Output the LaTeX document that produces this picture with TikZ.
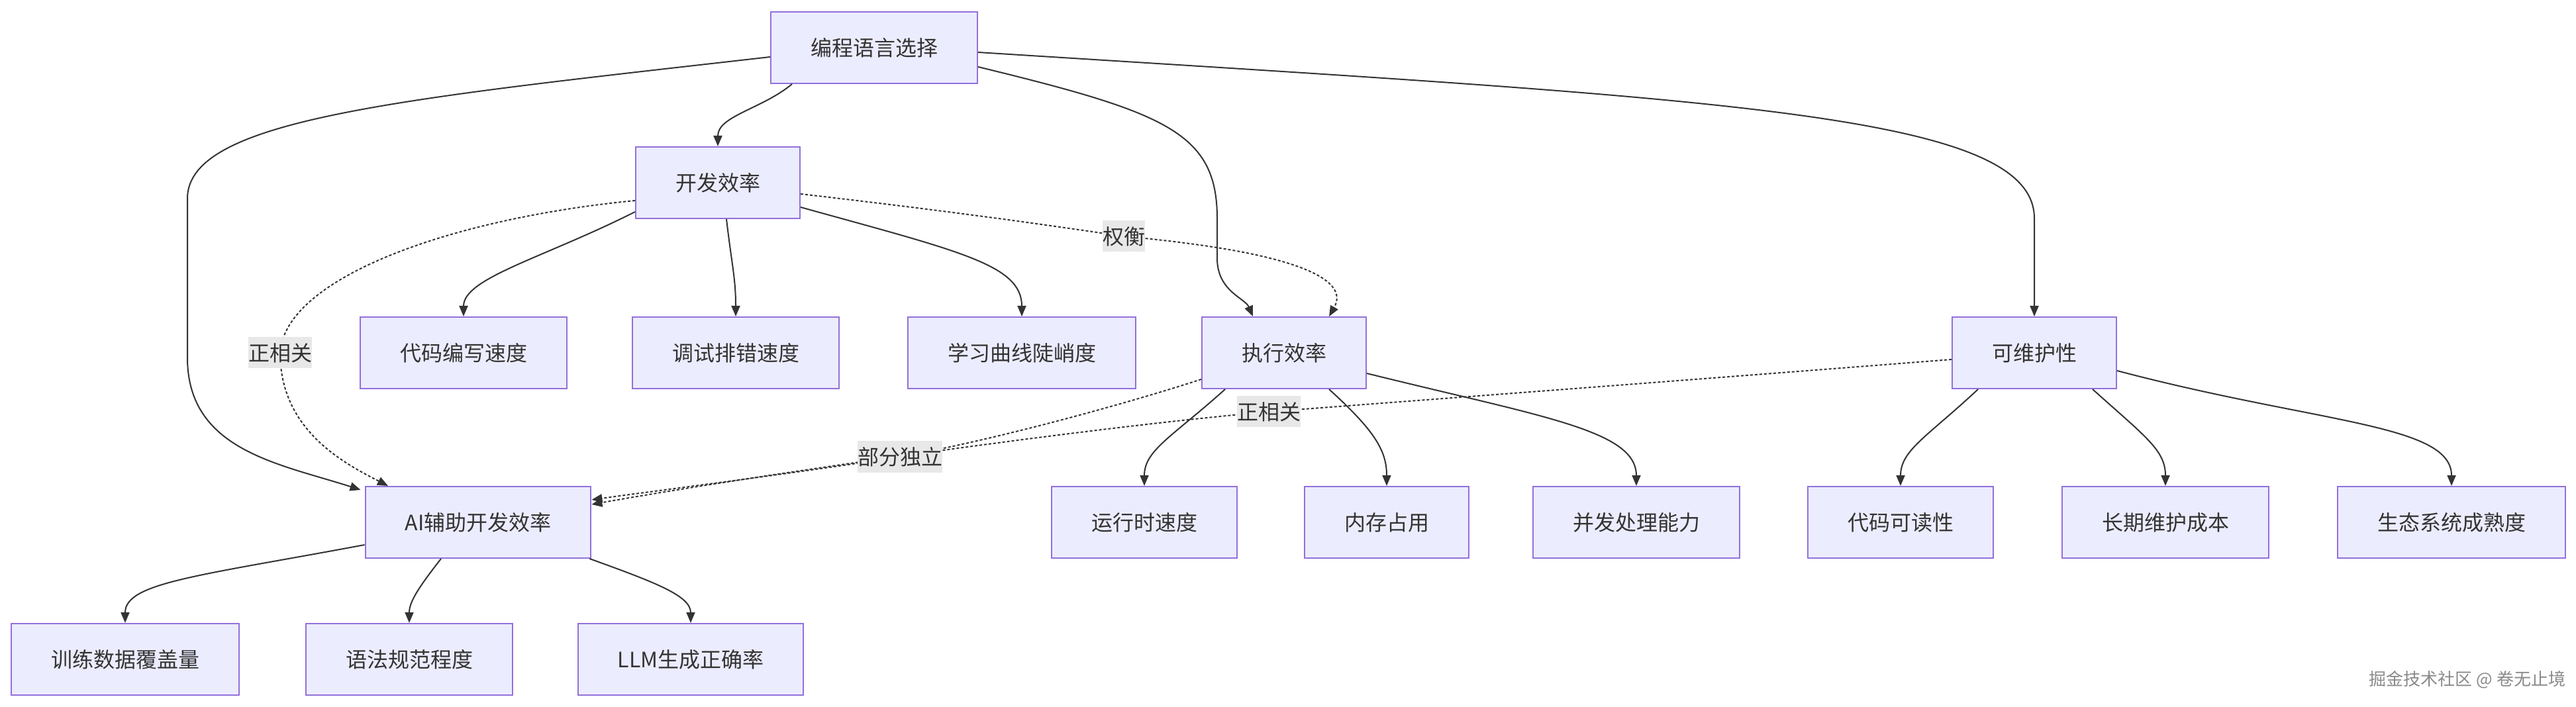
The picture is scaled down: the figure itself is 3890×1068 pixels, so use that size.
\documentclass[tikz,border=0pt]{standalone}
\usepackage{fontspec}
\setmainfont{Noto Sans CJK SC}
\usetikzlibrary{arrows.meta}
\definecolor{boxfill}{HTML}{ECECFF}
\definecolor{boxline}{HTML}{9370DB}
\definecolor{ink}{HTML}{333333}
\definecolor{lblbg}{HTML}{E8E8E8}
\definecolor{wmgray}{HTML}{8A8A8A}
\begin{document}
\begin{tikzpicture}[x=0.5pt,y=-0.5pt,
  box/.style={draw=boxline, fill=boxfill, line width=1pt, text=ink, minimum height=54pt, inner xsep=30pt, inner ysep=0pt, font=\fontsize{16pt}{19pt}\selectfont},
  elabel/.style={fill=lblbg, text=ink, inner xsep=0pt, inner ysep=0pt, minimum height=23.5pt, font=\fontsize{16pt}{19pt}\selectfont},
  conn/.style={draw=ink, line width=1pt, -{Triangle[length=8pt,width=6.5pt]}},
  dotconn/.style={conn, dash pattern=on 2pt off 1.5pt},
]
\useasboundingbox (0,0) rectangle (3890,1068);
\fill[white] (0,0) rectangle (3890,1068);

% nodes
\node[box] (A) at (1320,72) {编程语言选择};
\node[box] (B) at (1084,276) {开发效率};
\node[box] (B1) at (700,533) {代码编写速度};
\node[box] (B2) at (1111,533) {调试排错速度};
\node[box] (B3) at (1543,533) {学习曲线陡峭度};
\node[box] (C) at (1939,533) {执行效率};
\node[box] (D) at (3072,533) {可维护性};
\node[box] (E) at (722,789) {AI辅助开发效率};
\node[box] (C1) at (1728,789) {运行时速度};
\node[box] (C2) at (2094,789) {内存占用};
\node[box] (C3) at (2471,789) {并发处理能力};
\node[box] (D1) at (2870,789) {代码可读性};
\node[box] (D2) at (3270,789) {长期维护成本};
\node[box] (D3) at (3702,789) {生态系统成熟度};
\node[box] (E1) at (189,996) {训练数据覆盖量};
\node[box] (E2) at (618,996) {语法规范程度};
\node[box] (E3) at (1043,996) {LLM生成正确率};

% solid connectors
\draw[conn] ([xshift=-62pt]A.south) .. controls (1150,165) and (1084,175) .. (B.north);
\draw[conn] ([yshift=-14.5pt]A.east) .. controls (1760,170) and (1838,200) .. (1838,330) -- (1838,390) .. controls (1838,440) and (1880,450) .. ([xshift=-23.5pt]C.north);
\draw[conn] ([yshift=-3.5pt]A.east) .. controls (2600,150) and (3072,170) .. (3072,330) -- (D.north);
\draw[conn] ([yshift=-7pt]A.west) .. controls (600,150) and (283,180) .. (283,300) -- (283,540) .. controls (283,680) and (420,700) .. ([xshift=-3pt,yshift=-3pt]E.north west);

\draw[conn] ([yshift=-22pt]B.west) .. controls (820,390) and (700,420) .. (B1.north);
\draw[conn] ([xshift=6.5pt]B.south) .. controls (1105,400) and (1111,420) .. (B2.north);
\draw[conn] ([yshift=-18.5pt]B.east) .. controls (1450,380) and (1543,400) .. (B3.north);

\draw[conn] ([xshift=-44.5pt]C.south) .. controls (1770,660) and (1728,680) .. (C1.north);
\draw[conn] ([xshift=34pt]C.south) .. controls (2075,650) and (2094,680) .. (C2.north);
\draw[conn] ([yshift=-15.5pt]C.east) .. controls (2330,630) and (2471,650) .. (C3.north);

\draw[conn] ([xshift=-42.5pt]D.south) .. controls (2910,660) and (2870,680) .. (D1.north);
\draw[conn] ([xshift=44pt]D.south) .. controls (3240,660) and (3270,680) .. (D2.north);
\draw[conn] ([yshift=-13.5pt]D.east) .. controls (3500,640) and (3702,640) .. (D3.north);

\draw[conn] ([yshift=-17pt]E.west) .. controls (300,870) and (189,880) .. (E1.north);
\draw[conn] ([xshift=-28pt]E.south) .. controls (630,890) and (618,910) .. (E2.north);
\draw[conn] ([xshift=-1.5pt]E.south east) .. controls (990,880) and (1043,900) .. (E3.north);

% dotted connectors
\draw[dotconn] ([yshift=-8.5pt]B.east) .. controls (1400,315) and (1550,335) .. (1697,357) .. controls (1950,380) and (2040,420) .. ([xshift=34pt]C.north);
\draw[dotconn] ([yshift=-13.5pt]B.west) .. controls (680,330) and (430,420) .. (423,533) .. controls (423,650) and (520,700) .. ([xshift=-68pt]E.north);
\draw[dotconn] ([yshift=-20pt]C.west) .. controls (1700,610) and (1500,665) .. (1359,690) .. controls (1200,715) and (1000,740) .. ([yshift=17pt]E.east);
\draw[dotconn] ([yshift=-5pt]D.west) .. controls (2500,578) and (2100,608) .. (1916,622) .. controls (1600,650) and (1100,725) .. ([yshift=13.5pt]E.east);

% edge labels
\node[elabel] (l1) at (1697,357) {权衡};
\node[elabel] (l2) at (423,533) {正相关};
\node[elabel] (l3) at (1359,690) {部分独立};
\node[elabel] (l4) at (1916,622) {正相关};

% watermark
\node[text=wmgray, font=\fontsize{13pt}{15pt}\selectfont, inner sep=0pt] (wm) at (3726,1027) {掘金技术社区 @ 卷无止境};
\end{tikzpicture}
\end{document}
